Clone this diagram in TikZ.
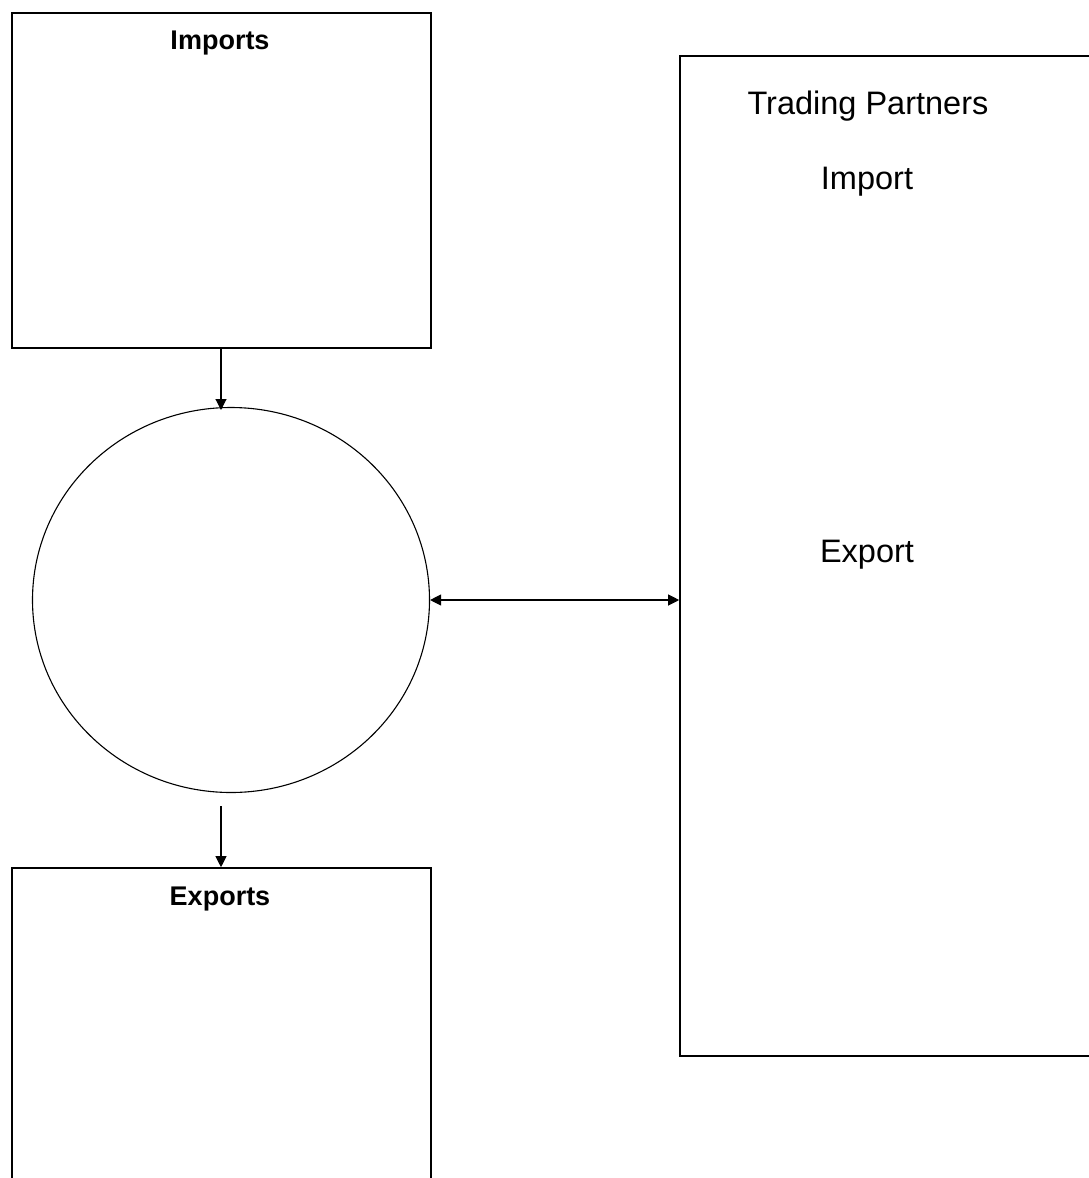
\documentclass[tikz,border=0pt]{standalone}
\usepackage{fontspec}
\setmainfont{Liberation Sans}
\usetikzlibrary{arrows.meta,shapes.geometric}
\begin{document}
\begin{tikzpicture}[x=1pt,y=-1pt,
  box/.style={draw=black,line width=1.6pt,rectangle,inner sep=0pt},
  conn/.style={line width=1.1pt,-{Triangle[length=11pt,width=11pt]}},
  biconn/.style={line width=1.1pt,{Triangle[length=11pt,width=11pt]}-{Triangle[length=11pt,width=11pt]}},
  title/.style={font=\fontsize{27}{31}\selectfont\bfseries,inner sep=0pt},
  lbl/.style={font=\fontsize{32.5}{38}\selectfont,inner sep=0pt}]
\useasboundingbox (0,0) rectangle (1089,1178);
\clip (0,0) rectangle (1089,1178);
\node[box,minimum width=419pt,minimum height=335pt] (imports) at (221.5,180.5) {};
\node[title,anchor=base] (impt) at (220,49) {Imports};
\node[draw=black,line width=1.1pt,ellipse,minimum width=397pt,minimum height=385pt,inner sep=0pt] (circ) at (231,600) {};
\node[box,minimum width=419pt,minimum height=420pt] (exports) at (221.5,1078) {};
\node[title,anchor=base] (expt) at (220,905) {Exports};
\node[box,minimum width=480pt,minimum height=1000pt] (trade) at (920,556) {};
\node[lbl,anchor=base] (tp) at (868,114) {Trading Partners};
\node[lbl,anchor=base] (imp) at (867,189) {Import};
\node[lbl,anchor=base] (exp) at (867,562) {Export};
\coordinate (gap) at (221,806);
\draw[conn] (221,348) -- (221,410);
\draw[conn] (gap) -- (gap |- exports.north);
\draw[biconn] (circ.east) -- (circ.east -| trade.west);
\end{tikzpicture}
\end{document}
